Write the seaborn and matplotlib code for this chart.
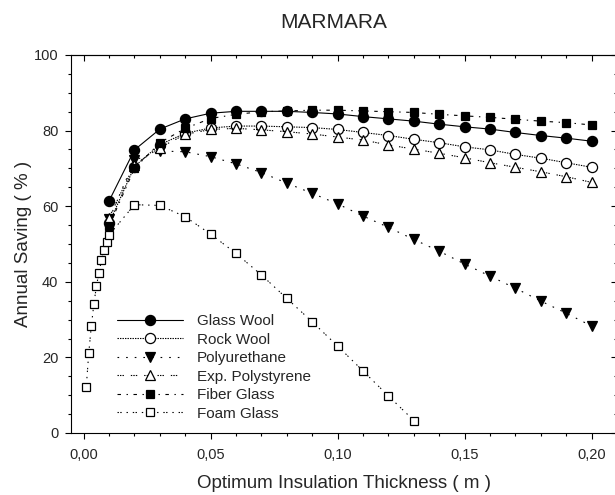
import matplotlib
matplotlib.use("Agg")
import matplotlib.pyplot as plt
from matplotlib.ticker import MultipleLocator, FuncFormatter
import seaborn as sns
import numpy as np

sns.set_theme(style="white")
plt.rcParams['font.family'] = ['Liberation Sans', 'DejaVu Sans']
plt.rcParams['lines.scale_dashes'] = False

# ---- data ----
thickness = [0.01, 0.02, 0.03, 0.04, 0.05, 0.06, 0.07, 0.08, 0.09, 0.10,
             0.11, 0.12, 0.13, 0.14, 0.15, 0.16, 0.17, 0.18, 0.19, 0.20]
glass_wool = [61.4, 74.9, 80.4, 83.1, 84.6, 85.1, 85.1, 85.1, 84.8, 84.4,
              83.7, 83.1, 82.5, 81.7, 81.0, 80.4, 79.5, 78.7, 78.0, 77.2]
rock_wool = [55.5, 70.5, 76.3, 79.3, 80.7, 81.2, 81.2, 81.0, 80.8, 80.3,
             79.5, 78.7, 77.7, 76.8, 75.7, 74.9, 73.7, 72.7, 71.5, 70.3]
polyurethane = [56.5, 72.2, 74.6, 74.4, 73.1, 71.2, 68.9, 66.1, 63.4, 60.6,
                57.4, 54.4, 51.2, 48.1, 44.7, 41.5, 38.3, 34.9, 31.7, 28.3]
exp_polystyrene = [57.0, 71.0, 75.5, 79.0, 80.3, 80.6, 80.2, 79.7, 79.1, 78.3,
                   77.5, 76.2, 75.1, 74.0, 72.8, 71.5, 70.3, 69.1, 67.8, 66.3]
fiber_glass = [54.8, 70.0, 76.8, 80.6, 83.2, 84.3, 85.0, 85.2, 85.4, 85.4,
               85.2, 85.0, 84.8, 84.3, 83.9, 83.5, 83.0, 82.5, 82.1, 81.5]
foam_thickness = [0.001, 0.002, 0.003, 0.004, 0.005, 0.006, 0.007, 0.008, 0.009, 0.010,
                  0.02, 0.03, 0.04, 0.05, 0.06, 0.07, 0.08, 0.09, 0.10, 0.11, 0.12, 0.13]
foam_glass = [12.1, 21.2, 28.3, 34.1, 38.8, 42.4, 45.7, 48.3, 50.5, 52.4,
              60.4, 60.2, 57.2, 52.6, 47.5, 41.8, 35.6, 29.4, 23.0, 16.4, 9.8, 3.3]

labels = ["Glass Wool", "Rock Wool", "Polyurethane", "Exp. Polystyrene",
          "Fiber Glass", "Foam Glass"]
title = "MARMARA"
xlabel = "Optimum Insulation Thickness ( m )"
ylabel = "Annual Saving ( % )"

series = [
    (thickness, glass_wool, 'o', 'black', '-', 7.3),
    (thickness, rock_wool, 'o', 'white', (0, (1.0, 0.8)), 7.3),
    (thickness, polyurethane, 'v', 'black', (0, (1.2, 5.0)), 7.8),
    (thickness, exp_polystyrene, '^', 'white', (0, (1.0, 0.8, 1.0, 0.8, 1.0, 5.0)), 7.8),
    (thickness, fiber_glass, 's', 'black', (0, (2.5, 4.0, 1.0, 4.0)), 6.2),
    (foam_thickness, foam_glass, 's', 'white', (0, (1.0, 1.0, 1.0, 3.5, 1.0, 3.5)), 6.2),
]

fig = plt.figure(figsize=(6.15, 4.95), dpi=100)
ax = fig.add_axes([71/615, (495-433)/495, 546/615, 378/495])

for (xs, ys, mk, fc, ls, ms), lab in zip(series, labels):
    sns.lineplot(x=xs, y=ys, ax=ax, color='black', marker=mk, markersize=ms,
                 markerfacecolor=fc, markeredgecolor='black', markeredgewidth=0.9,
                 linestyle=ls, linewidth=0.8, label=lab, errorbar=None, sort=False)

ax.set_xlim(-0.005, 0.21)
ax.set_ylim(0, 100)
ax.set_xlabel("")
ax.set_ylabel("")

for sp in ax.spines.values():
    sp.set_color('black')
    sp.set_linewidth(0.8)
ax.spines['top'].set_visible(True)
ax.spines['right'].set_visible(False)

ax.xaxis.set_major_locator(MultipleLocator(0.05))
ax.xaxis.set_minor_locator(MultipleLocator(0.01))
ax.yaxis.set_major_locator(MultipleLocator(20))
ax.yaxis.set_minor_locator(MultipleLocator(5))
ax.xaxis.set_major_formatter(FuncFormatter(lambda v, p: f"{v:.2f}".replace('.', ',')))
ax.yaxis.set_major_formatter(FuncFormatter(lambda v, p: f"{v:.0f}"))
ax.tick_params(axis='both', which='both', direction='out', color='black', width=0.8,
               bottom=True, left=True, top=False, right=False)
ax.tick_params(axis='both', which='major', length=4, labelsize=10.5)
ax.tick_params(axis='x', which='major', pad=7)
ax.tick_params(axis='y', which='major', pad=5)
ax.tick_params(axis='both', which='minor', length=2.5)

# top / right mirrored ticks pointing inward
sx = ax.secondary_xaxis('top')
sx.xaxis.set_major_locator(MultipleLocator(0.05))
sx.xaxis.set_minor_locator(MultipleLocator(0.01))
sx.tick_params(which='both', direction='in', labeltop=False, color='black', width=0.8)
sx.tick_params(which='major', length=4)
sx.tick_params(which='minor', length=2.5)
sx.spines['top'].set_linewidth(0.8)
sy = ax.secondary_yaxis('right')
sy.yaxis.set_major_locator(MultipleLocator(20))
sy.yaxis.set_minor_locator(MultipleLocator(5))
sy.tick_params(which='both', direction='in', labelright=False, color='black', width=0.8)
sy.tick_params(which='major', length=4)
sy.tick_params(which='minor', length=2.5)
sy.spines['right'].set_visible(False)

fig.text(334/615, 1 - 22/495, title, ha='center', va='center', fontsize=15)
fig.text(344/615, 1 - 483/495, xlabel, ha='center', va='center', fontsize=13.5)
fig.text(24/615, 1 - 244/495, ylabel, ha='center', va='center', fontsize=13.5, rotation=90)

leg = ax.legend(loc='upper left', bbox_to_anchor=(0.085, 0.315), frameon=False,
                fontsize=11, handlelength=4.3, handletextpad=0.9, labelspacing=0.3,
                borderaxespad=0, borderpad=0)

fig.savefig("out.png", dpi=100)
